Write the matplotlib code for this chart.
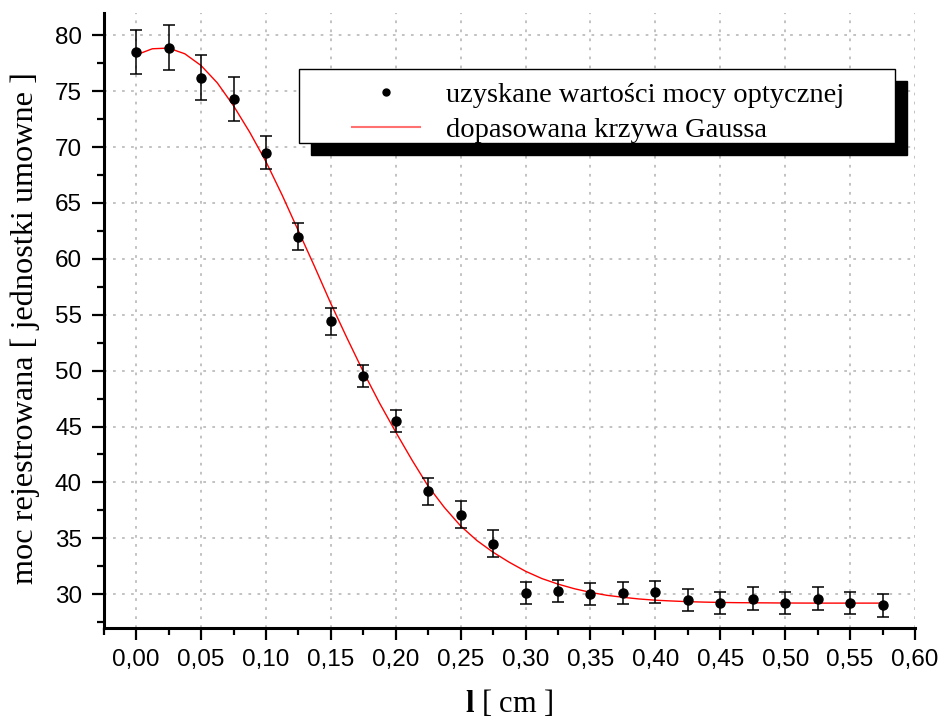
import matplotlib
matplotlib.use("Agg")
import matplotlib.pyplot as plt
from matplotlib.patches import Rectangle
from matplotlib.lines import Line2D
from matplotlib.ticker import MultipleLocator, FuncFormatter

plt.rcParams["mathtext.fontset"] = "custom"
plt.rcParams["mathtext.bf"] = "Liberation Serif:bold"
plt.rcParams["mathtext.rm"] = "Liberation Serif"

# ---- data ----
x_pts = [0.000, 0.025, 0.050, 0.075, 0.100, 0.125, 0.150, 0.175, 0.200, 0.225,
         0.250, 0.275, 0.300, 0.325, 0.350, 0.375, 0.400, 0.425, 0.450, 0.475,
         0.500, 0.525, 0.550, 0.575]
y_pts = [78.5, 78.9, 76.2, 74.3, 69.5, 62.0, 54.4, 49.5, 45.5, 39.2,
         37.1, 34.5, 30.1, 30.3, 30.0, 30.1, 30.2, 29.5, 29.2, 29.6,
         29.2, 29.6, 29.2, 29.0]
y_err = [2.0, 2.0, 2.0, 2.0, 1.5, 1.2, 1.2, 1.0, 1.0, 1.2,
         1.2, 1.2, 1.0, 1.0, 1.0, 1.0, 1.0, 1.0, 1.0, 1.0,
         1.0, 1.0, 1.0, 1.0]

x_fit = [0.0, 0.0125, 0.025, 0.0375, 0.05, 0.0625, 0.075, 0.0875, 0.1, 0.1125,
         0.125, 0.1375, 0.15, 0.1625, 0.175, 0.1875, 0.2, 0.2125, 0.225, 0.2375,
         0.25, 0.2625, 0.275, 0.2875, 0.3, 0.3125, 0.325, 0.3375, 0.35, 0.3625,
         0.375, 0.3875, 0.4, 0.4125, 0.425, 0.4375, 0.45, 0.4625, 0.475, 0.4875,
         0.5, 0.525, 0.55, 0.575]
y_fit = [78.25, 78.8, 78.86, 78.35, 77.3, 75.75, 73.7, 71.33, 68.7, 65.7,
         62.5, 59.3, 56.0, 52.9, 49.9, 47.1, 44.5, 42.0, 39.65, 37.75,
         36.1, 34.8, 33.75, 32.85, 32.05, 31.4, 30.9, 30.49, 30.16, 29.9,
         29.72, 29.57, 29.46, 29.39, 29.33, 29.29, 29.26, 29.24, 29.23, 29.22,
         29.21, 29.2, 29.2, 29.2]

x_ticks = [0.00, 0.05, 0.10, 0.15, 0.20, 0.25, 0.30, 0.35, 0.40, 0.45, 0.50, 0.55, 0.60]
y_ticks = [30, 35, 40, 45, 50, 55, 60, 65, 70, 75, 80]

label_pts = "uzyskane wartości mocy optycznej"
label_fit = "dopasowana krzywa Gaussa"
xlabel = r"$\mathbf{l}$ [ cm ]"
ylabel = "moc rejestrowana [ jednostki umowne ]"

# ---- figure ----
W, H = 942, 719
fig = plt.figure(figsize=(W / 100, H / 100), dpi=100)
ax = fig.add_axes([103.7 / W, 1 - 627.7 / H, (915 - 103.7) / W, (627.7 - 13) / H])

serif = "Liberation Serif"
sans = "Liberation Sans"

ax.plot(x_fit, y_fit, color="red", lw=1.0, zorder=3)
ax.errorbar(x_pts, y_pts, yerr=y_err, fmt="o", color="black", ms=6.5,
            ecolor="black", elinewidth=1.1, capsize=4.5, capthick=1.1, zorder=4)

ax.set_xlim(-0.025, 0.6)
ax.set_ylim(27, 82)
ax.set_xticks(x_ticks)
ax.set_yticks(y_ticks)
ax.xaxis.set_minor_locator(MultipleLocator(0.025))
ax.yaxis.set_minor_locator(MultipleLocator(2.5))
ax.xaxis.set_major_formatter(FuncFormatter(lambda v, p: f"{v:.2f}".replace(".", ",")))
ax.yaxis.set_major_formatter(FuncFormatter(lambda v, p: f"{v:.0f}"))

for s in ["top", "right"]:
    ax.spines[s].set_visible(False)
for s in ["left", "bottom"]:
    ax.spines[s].set_linewidth(2.2)

ax.tick_params(which="major", direction="out", length=8.6, width=1.6, pad=7,
               labelsize=17.5)
ax.tick_params(which="minor", direction="out", length=5, width=1.6)
for lab in ax.get_xticklabels() + ax.get_yticklabels():
    lab.set_fontfamily(sans)

ax.grid(True, which="major", color="#bdbdbd", linestyle=(0, (1.5, 3.5)), lw=1.3)
ax.set_axisbelow(True)

ax.set_ylabel(ylabel, fontsize=23.2, family=serif)
ax.yaxis.set_label_coords(-0.0785, 0.4875)
ax.set_xlabel(xlabel, fontsize=22, family=serif, labelpad=12)

# ---- legend with shadow frame ----
lx0, ly0, lx1, ly1 = 299, 69, 895, 143
sh = 12
fig.patches.append(Rectangle(((lx0 + sh) / W, 1 - (ly1 + sh) / H), (lx1 - lx0) / W,
                             (ly1 - ly0) / H, transform=fig.transFigure,
                             facecolor="black", edgecolor="black", zorder=3))
fig.patches.append(Rectangle((lx0 / W, 1 - ly1 / H), (lx1 - lx0) / W,
                             (ly1 - ly0) / H, transform=fig.transFigure,
                             facecolor="white", edgecolor="black", lw=1.0, zorder=4))
handles = [Line2D([], [], marker="o", ls="none", color="black", ms=5),
           Line2D([], [], color="#ff7070", lw=1.5)]
fig.legend(handles, [label_pts, label_fit], loc="center left",
           bbox_to_anchor=(352 / W, 1 - 112.5 / H),
           bbox_transform=fig.transFigure, frameon=False, borderpad=0,
           borderaxespad=0, handlelength=2.4, handletextpad=0.9, labelspacing=0.33,
           prop={"family": serif, "size": 20.5})

fig.savefig("out.png", dpi=100)
